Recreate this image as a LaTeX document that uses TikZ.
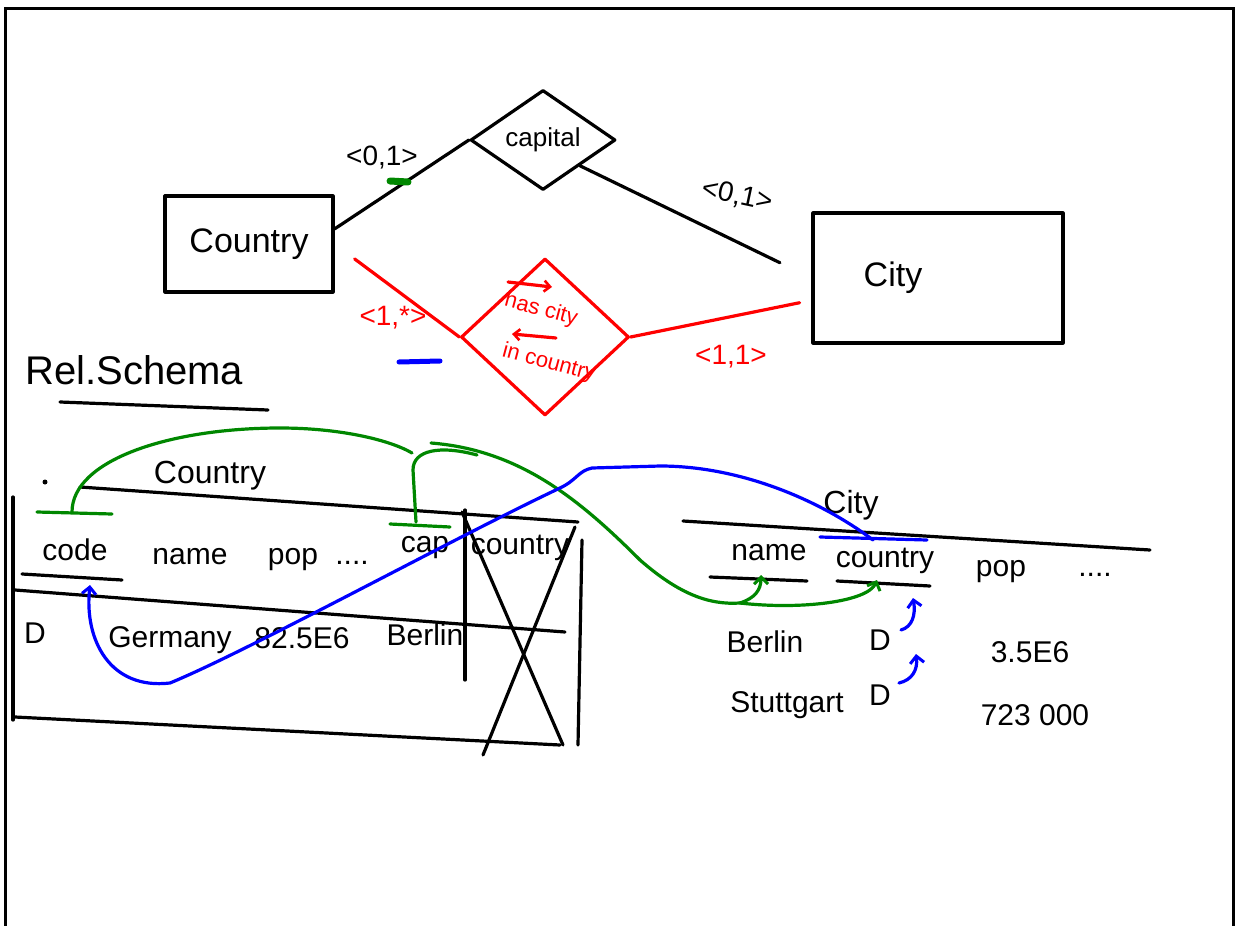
\documentclass[tikz,border=0pt]{standalone}
\usepackage{fontspec}
\setmainfont{Liberation Sans}
\usetikzlibrary{shapes.geometric,arrows.meta,calc}
\definecolor{ggreen}{RGB}{0,135,0}
\definecolor{rred}{RGB}{255,0,0}
\definecolor{bblue}{RGB}{0,0,255}
\begin{document}
\begin{tikzpicture}[x=1pt,y=-1pt,
  pen/.style={line width=3.2pt,line cap=round,line join=round},
  redpen/.style={pen,draw=rred},
  greenpen/.style={pen,draw=ggreen},
  bluepen/.style={pen,draw=bblue},
  tip/.style={-{Straight Barb[length=7pt,width=14pt,line width=3pt]}},
  rtip/.style={-{Straight Barb[length=6pt,width=11pt,line width=2.6pt]}},
  hand/.style={inner sep=0pt,font=\fontsize{30}{34}\selectfont},
  big/.style={inner sep=0pt,font=\fontsize{34}{40}\selectfont},
  lbl/.style={inner sep=0pt,font=\fontsize{28}{32}\selectfont},
  rlbl/.style={inner sep=0pt,text=rred,font=\fontsize{22}{26}\selectfont},
]
\useasboundingbox (0,0) rectangle (1237,926);
% frame
\draw[line width=3pt] (5,926) -- (5,8) -- (1233,8) -- (1233,926);

% ---------- ER diagram ----------
\node[pen,draw,minimum width=168pt,minimum height=96pt,big] (country) at (249,244) {Country};
\node[pen,draw,minimum width=250pt,minimum height=130pt,big] (city) at (938,278) {City\hspace*{90pt}};
\node[pen,draw,diamond,aspect=1.45,minimum width=145pt,minimum height=100pt,inner sep=0pt,
      font=\fontsize{26}{30}\selectfont] (capital) at (543,140) {capital};
\node[redpen,diamond,minimum width=168pt,minimum height=157pt,inner sep=0pt] (has) at (545,337) {};
\node[rlbl,rotate=-15] (hc) at (541,310) {has city};
\node[rlbl,rotate=-15] (ic) at (549,363) {in country};
\coordinate (a1s) at (508,282);
\coordinate (a1e) at (552,287);
\coordinate (a2s) at (556,338);
\coordinate (a2e) at (512,334);
\draw[redpen,rtip] (a1s) -- (a1e);
\draw[redpen,rtip] (a2s) -- (a2e);

\draw[pen] (country.10) -- (capital.west);
\draw[pen,shorten >=35pt] (capital.south east) -- (city.west);
\draw[redpen,shorten <=25pt] (country.east) -- (has.west);
\draw[redpen,shorten >=12pt] (has.east) -- (city.190);

\node[lbl] (mc1) at (382,158) {<0,1>};
\node[lbl,rotate=-12] (mc2) at (737,196) {<0,1>};
\node[lbl,text=rred] (mc3) at (393,318) {<1,*>};
\node[lbl,text=rred] (mc4) at (731,357) {<1,1>};
\draw[ggreen,line width=7pt,line cap=round] (390,181) -- (408,182);
\draw[bblue,line width=5pt,line cap=round] (399,362) -- (440,361);

% ---------- relational schema ----------
\node[inner sep=0pt,anchor=west,font=\fontsize{40}{44}\selectfont] (rel) at (25,370) {Rel.Schema};
\coordinate (ula) at (60,402);
\coordinate (ulb) at (268,410);
\draw[pen] (ula) -- (ulb);

% Country table
\node[inner sep=0pt,font=\fontsize{32}{36}\selectfont] (tcountry) at (210,476) {Country};
\fill (45,482) circle (2.5pt);
\draw[pen] (80,487) -- (578,522);
\draw[pen] (15,590) -- (565,632);
\draw[pen] (15,717) -- (560,745);
\draw[pen] (13,497) -- (13,720);
\draw[pen] (582,540) -- (578,745);
\draw[pen] (465,510) -- (465,680);
\draw[pen] (462,512) -- (563,745);
\draw[pen] (575,527) -- (483,755);

\node[hand] (code) at (75,550) {code};
\node[hand] (cname) at (190,557) {name};
\node[hand] (cpop) at (293,560) {pop};
\node[hand] (cdots) at (352,563) {....};
\node[hand] (cap) at (425,548) {cap};
\node[hand] (ccountry) at (520,548) {country};
\draw[pen] (22,574) -- (122,580);

\node[hand] (d0) at (35,633) {D};
\node[hand] (germany) at (170,640) {Germany};
\node[hand] (gpop) at (302,638) {82.5E6};
\node[hand] (gcap) at (425,635) {Berlin};

% City table
\node[inner sep=0pt,font=\fontsize{32}{36}\selectfont] (tcity) at (851,505) {City};
\draw[pen] (683,521) -- (1150,550);
\node[hand] (yname) at (769,553) {name};
\node[hand] (ycountry) at (885,561) {country};
\node[hand] (ypop) at (1001,572) {pop};
\node[hand] (ydots) at (1095,575) {....};
\draw[pen] (710,577) -- (807,581);
\draw[pen] (837,581) -- (930,586);

\node[hand] (berlin) at (765,642) {Berlin};
\node[hand] (d1) at (880,640) {D};
\node[hand] (bpop) at (1030,652) {3.5E6};
\node[hand] (stuttgart) at (787,705) {Stuttgart};
\node[hand] (d2) at (880,695) {D};
\node[hand] (spop) at (1035,715) {723 000};

% ---------- green foreign key marks ----------
\coordinate (codebar) at (72,512);
\coordinate (capbar) at (416,522);
\coordinate (gjoin) at (412,453);
\coordinate (gsplit) at (740,603);
\coordinate (gname) at (761,575);
\coordinate (gcountry) at (877,580);
\draw[greenpen] (37,512) -- (112,514);
\draw[greenpen] (390,524) -- (450,527);
\draw[greenpen] (codebar) .. controls (72,460) and (170,428) .. (280,428) .. controls (340,428) and (390,440) .. (gjoin);
\draw[greenpen] (capbar) -- (413,470) .. controls (413,450) and (440,445) .. (477,455);
\draw[greenpen] (431,443) .. controls (520,450) and (580,500) .. (640,560) .. controls (680,595) and (710,605) .. (gsplit);
\draw[greenpen,tip] (gsplit) .. controls (755,598) and (761,590) .. (gname);
\draw[greenpen,tip] (gsplit) .. controls (800,610) and (868,602) .. (gcountry);

% ---------- blue foreign key marks ----------
\coordinate (bstart) at (873,540);
\coordinate (bcode) at (90,585);
\draw[bluepen] (820,537) -- (927,540);
\draw[bluepen,tip] (bstart) .. controls (820,500) and (740,466) .. (660,466) -- (592,468)
   .. controls (578,471) and (577,480) .. (560,488)
   .. controls (450,540) and (250,650) .. (170,683)
   .. controls (110,690) and (84,640) .. (bcode);
\coordinate (b1a) at (901,630);
\coordinate (b1b) at (913,598);
\coordinate (b2a) at (899,683);
\coordinate (b2b) at (916,654);
\draw[bluepen,tip] (b1a) .. controls (912,627) and (916,615) .. (b1b);
\draw[bluepen,tip] (b2a) .. controls (912,680) and (918,670) .. (b2b);
\end{tikzpicture}
\end{document}
